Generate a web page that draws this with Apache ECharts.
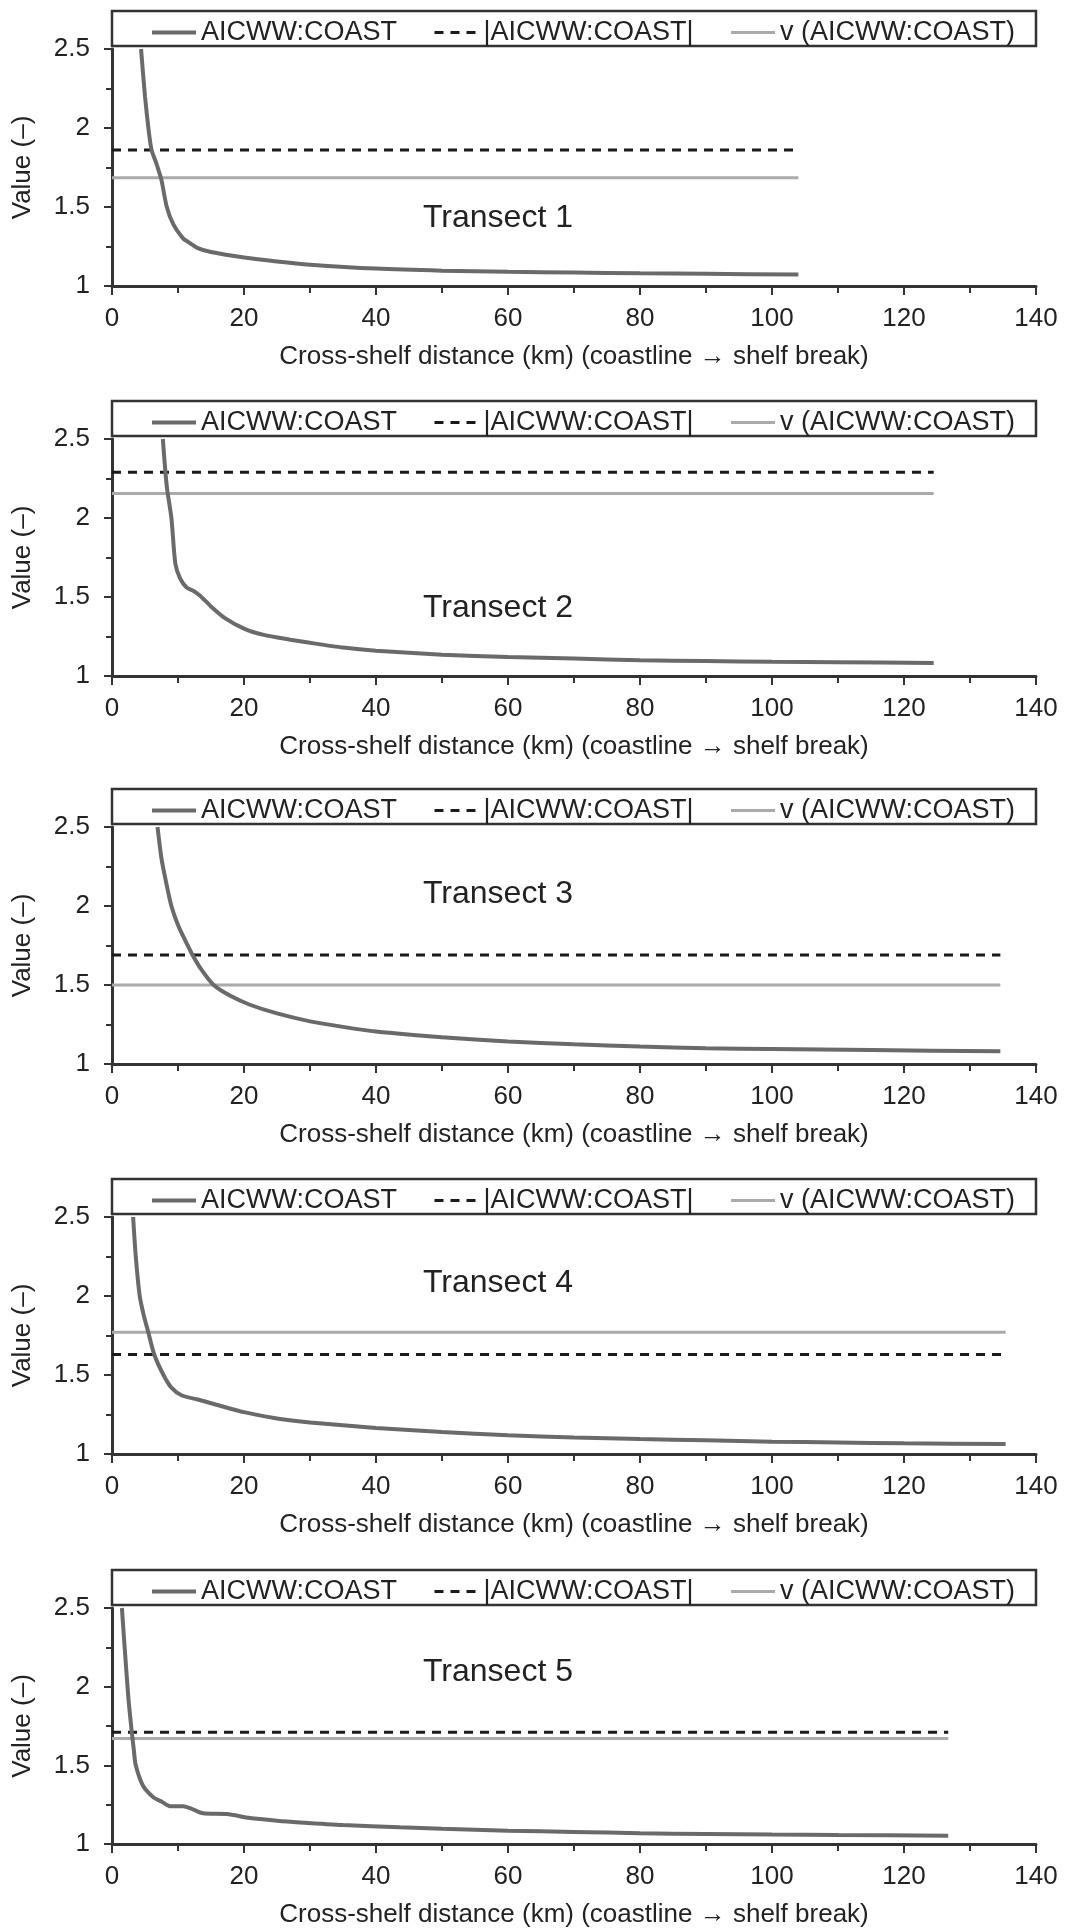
<!DOCTYPE html>
<html><head><meta charset="utf-8">
<script src="https://cdn.jsdelivr.net/npm/echarts@6/dist/echarts.min.js"></script>
<style>html,body{margin:0;padding:0;background:#fff}#c{width:1065px;height:1929px}</style>
</head><body><div id="c"></div>
<script>
// ---------- data ----------
const seriesNames = ['AICWW:COAST', '|AICWW:COAST|', 'v (AICWW:COAST)'];
const panelTitles = ['Transect 1', 'Transect 2', 'Transect 3', 'Transect 4', 'Transect 5'];
const xTitle = 'Cross-shelf distance (km) (coastline \u2192 shelf break)';
const yTitle = 'Value (\u2013)';
const xTickValues = [0, 20, 40, 60, 80, 100, 120, 140];
const yTickValues = [1, 1.5, 2, 2.5];

const t1Dist  = [4.4, 5.0, 5.6, 6.0, 6.6, 7.0, 7.5, 8.3, 9.3, 10.8, 11.5, 13, 15, 20, 25, 30, 40, 50, 60, 70, 80, 90, 104];
const t1Ratio = [2.5, 2.2, 1.97, 1.86, 1.79, 1.74, 1.67, 1.5, 1.39, 1.30, 1.28, 1.24, 1.215, 1.18, 1.155, 1.135, 1.11, 1.097, 1.09, 1.085, 1.08, 1.077, 1.072];

const t2Dist  = [7.7, 8.3, 9.0, 9.6, 10.3, 11.3, 12.3, 13.3, 15, 17, 20, 23, 27, 30, 35, 40, 50, 60, 70, 80, 90, 100, 110, 124.5];
const t2Ratio = [2.5, 2.2, 2.0, 1.71, 1.62, 1.56, 1.54, 1.51, 1.44, 1.37, 1.30, 1.26, 1.23, 1.21, 1.18, 1.16, 1.135, 1.12, 1.11, 1.10, 1.095, 1.09, 1.087, 1.083];

const t3Dist  = [6.9, 7.5, 8.2, 9.0, 10.0, 11.0, 12.2, 13.5, 15.4, 18, 20.9, 25, 30, 35, 40, 50, 60, 70, 80, 90, 100, 115, 134.6];
const t3Ratio = [2.5, 2.3, 2.15, 2.0, 1.88, 1.79, 1.69, 1.6, 1.50, 1.43, 1.375, 1.32, 1.27, 1.235, 1.206, 1.17, 1.143, 1.125, 1.11, 1.10, 1.095, 1.088, 1.08];

const t4Dist  = [3.2, 3.6, 4.2, 4.8, 5.5, 6.4, 7.8, 9.0, 10.6, 13, 16, 20, 25, 30, 40, 50, 60, 70, 80, 90, 100, 110, 120, 135.4];
const t4Ratio = [2.5, 2.25, 2.0, 1.88, 1.77, 1.63, 1.50, 1.42, 1.37, 1.345, 1.31, 1.265, 1.225, 1.2, 1.165, 1.14, 1.118, 1.105, 1.095, 1.087, 1.078, 1.073, 1.068, 1.063];

const t5Dist  = [1.5, 2.0, 2.5, 3.0, 3.3, 3.6, 4.7, 6.3, 7.5, 8.8, 10.8, 12, 13.8, 17.4, 20.9, 25, 28.5, 35, 43.6, 50, 60, 70, 80, 90, 100, 110, 126.7];
const t5Ratio = [2.5, 2.2, 1.92, 1.71, 1.6, 1.50, 1.37, 1.296, 1.27, 1.24, 1.24, 1.225, 1.195, 1.19, 1.165, 1.148, 1.137, 1.12, 1.106, 1.097, 1.085, 1.077, 1.068, 1.064, 1.06, 1.057, 1.053];

const absMeans = [1.86, 2.29, 1.69, 1.63, 1.71];   // |AICWW:COAST|
const vMeans   = [1.685, 2.155, 1.50, 1.77, 1.67]; // v (AICWW:COAST)

const dists  = [t1Dist, t2Dist, t3Dist, t4Dist, t5Dist];
const ratios = [t1Ratio, t2Ratio, t3Ratio, t4Ratio, t5Ratio];

// ---------- layout / style ----------
const FONT = '"Liberation Sans", Arial, Helvetica, sans-serif';
const tops = [49, 439, 827, 1217, 1608];
const plotH = 237;
const plotLeft = 112, plotW = 924;
const titleY = [218, 608, 894, 1283, 1672];
const axisColor = '#333';
const textColor = '#222';

const grids = [], xAxes = [], yAxes = [], series = [], legends = [], graphics = [];

for (let i = 0; i < 5; i++) {
  grids.push({ left: plotLeft, top: tops[i], width: plotW, height: plotH });
  xAxes.push({
    gridIndex: i, type: 'value',
    min: xTickValues[0], max: xTickValues[xTickValues.length - 1],
    interval: xTickValues[1] - xTickValues[0],
    name: xTitle, nameLocation: 'middle', nameGap: 58,
    nameTextStyle: { fontFamily: FONT, fontSize: 26, color: textColor },
    axisLine: { onZero: false, lineStyle: { color: axisColor, width: 3 } },
    axisTick: { length: 9, lineStyle: { color: axisColor, width: 2 } },
    minorTick: { show: true, splitNumber: 2, length: 7, lineStyle: { color: axisColor, width: 2 } },
    splitLine: { show: false },
    axisLabel: { margin: 20, fontFamily: FONT, fontSize: 26, color: textColor }
  });
  yAxes.push({
    gridIndex: i, type: 'value',
    min: yTickValues[0], max: yTickValues[yTickValues.length - 1],
    interval: yTickValues[1] - yTickValues[0],
    name: yTitle, nameLocation: 'middle', nameGap: 76,
    nameTextStyle: { fontFamily: FONT, fontSize: 26, color: textColor },
    axisLine: { onZero: false, lineStyle: { color: axisColor, width: 3 } },
    axisTick: { length: 8, lineStyle: { color: axisColor, width: 2 } },
    minorTick: { show: true, splitNumber: 2, length: 6, lineStyle: { color: axisColor, width: 2 } },
    splitLine: { show: false },
    axisLabel: { margin: 22, fontFamily: FONT, fontSize: 26, color: textColor }
  });
  const d = dists[i], r = ratios[i];
  const xEnd = d[d.length - 1];
  series.push({
    name: seriesNames[1], type: 'line', xAxisIndex: i, yAxisIndex: i,
    data: [[0, absMeans[i]], [xEnd, absMeans[i]]],
    showSymbol: false, symbol: 'none', z: 2, silent: true,
    lineStyle: { color: '#1a1a1a', width: 3, type: [9, 7] }, itemStyle: { color: '#1a1a1a' }
  });
  series.push({
    name: seriesNames[2], type: 'line', xAxisIndex: i, yAxisIndex: i,
    data: [[0, vMeans[i]], [xEnd, vMeans[i]]],
    showSymbol: false, symbol: 'none', z: 2, silent: true,
    lineStyle: { color: '#aaaaaa', width: 3 }, itemStyle: { color: '#aaaaaa' }
  });
  series.push({
    name: seriesNames[0], type: 'line', xAxisIndex: i, yAxisIndex: i,
    data: d.map((x, k) => [x, r[k]]),
    showSymbol: false, symbol: 'none', smooth: 0.25, z: 3, silent: true,
    lineStyle: { color: '#6a6a6a', width: 4 }, itemStyle: { color: '#6a6a6a' }
  });
  legends.push({
    data: seriesNames.slice(), left: 145, top: tops[i] - 35, itemGap: 36,
    itemWidth: 44, itemHeight: 14, z: 5, selectedMode: false,
    itemStyle: { opacity: 0, borderWidth: 0 },
    lineStyle: { width: 'inherit' },
    textStyle: { fontFamily: FONT, fontSize: 27, color: textColor }
  });
  graphics.push({
    type: 'rect', z: 1,
    shape: { x: plotLeft, y: tops[i] - 38, width: plotW, height: 35 },
    style: { fill: '#fff', stroke: axisColor, lineWidth: 2.5 }
  });
  graphics.push({
    type: 'text', z: 5, x: 498, y: titleY[i],
    style: { text: panelTitles[i], fontFamily: FONT, fontSize: 32, fill: textColor, textAlign: 'center', textVerticalAlign: 'middle' }
  });
}

const chart = echarts.init(document.getElementById('c'), null, { renderer: 'canvas' });
chart.setOption({
  backgroundColor: '#fff',
  animation: false,
  grid: grids, xAxis: xAxes, yAxis: yAxes,
  legend: legends, series: series, graphic: graphics
});
</script>
</body></html>
